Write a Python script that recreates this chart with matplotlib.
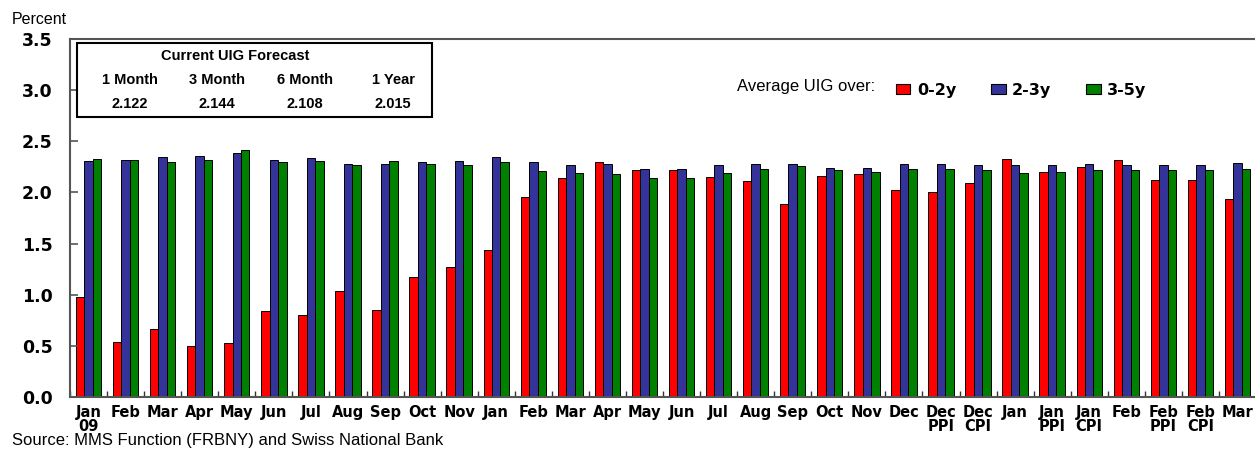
import numpy as np
import matplotlib.pyplot as plt
from matplotlib.patches import Rectangle, Patch

# Categories (survey dates)
labels = ['Jan\n09', 'Feb', 'Mar', 'Apr', 'May', 'Jun', 'Jul', 'Aug', 'Sep', 'Oct',
          'Nov', 'Jan', 'Feb', 'Mar', 'Apr', 'May', 'Jun', 'Jul', 'Aug', 'Sep',
          'Oct', 'Nov', 'Dec', 'Dec\nPPI', 'Dec\nCPI', 'Jan', 'Jan\nPPI', 'Jan\nCPI',
          'Feb', 'Feb\nPPI', 'Feb\nCPI', 'Mar']

# Average UIG over horizons
uig_0_2 = [0.98, 0.54, 0.66, 0.50, 0.53, 0.84, 0.80, 1.04, 0.85, 1.17,
           1.27, 1.44, 1.96, 2.14, 2.30, 2.22, 2.22, 2.15, 2.11, 1.89,
           2.16, 2.18, 2.02, 2.00, 2.09, 2.33, 2.20, 2.25, 2.32, 2.12, 2.12, 1.94]
uig_2_3 = [2.31, 2.32, 2.35, 2.36, 2.39, 2.32, 2.34, 2.28, 2.28, 2.30,
           2.31, 2.35, 2.30, 2.27, 2.28, 2.23, 2.23, 2.27, 2.28, 2.28,
           2.24, 2.24, 2.28, 2.28, 2.27, 2.27, 2.27, 2.28, 2.27, 2.27, 2.27, 2.29]
uig_3_5 = [2.33, 2.32, 2.30, 2.32, 2.41, 2.30, 2.31, 2.27, 2.31, 2.28,
           2.27, 2.30, 2.21, 2.19, 2.18, 2.14, 2.14, 2.19, 2.23, 2.26,
           2.22, 2.20, 2.23, 2.23, 2.22, 2.19, 2.20, 2.22, 2.22, 2.22, 2.22, 2.23]

# Current forecast table
horizons = ['1 Month', '3 Month', '6 Month', '1 Year']
forecast = [2.122, 2.144, 2.108, 2.015]

series_names = ['0-2y', '2-3y', '3-5y']
colors = ['#FF0000', '#333399', '#008000']

fig = plt.figure(figsize=(12.55, 4.49), dpi=100)
ax = fig.add_axes([70 / 1255, 52 / 449, 1186 / 1255, 358 / 449])

x = np.arange(len(labels))
w = 0.228
for k, vals in enumerate([uig_0_2, uig_2_3, uig_3_5]):
    ax.bar(x + (k - 1) * w, vals, w, color=colors[k], edgecolor='black', linewidth=0.7)

ax.set_xlim(-0.5, len(labels) - 0.5)
ax.set_ylim(0, 3.5)
ax.set_yticks(np.arange(0, 3.51, 0.5))
ax.set_yticklabels(['%.1f' % v for v in np.arange(0, 3.51, 0.5)],
                   fontsize=12.5, fontweight='bold', family='DejaVu Sans')
ax.set_xticks(x)
ax.set_xticklabels(labels, fontsize=10.5, fontweight='bold', family='DejaVu Sans',
                   linespacing=0.9, va='top')
ax.set_xticks(np.arange(-0.5, len(labels)), minor=True)
ax.tick_params(axis='x', which='major', length=0, pad=6)
ax.tick_params(axis='x', which='minor', length=4, direction='in', width=1, color='#333333')
ax.tick_params(axis='y', length=6, direction='in', width=1.2, pad=12.5, color='#555555')

for s in ['left', 'bottom', 'top']:
    ax.spines[s].set_color('#555555')
    ax.spines[s].set_linewidth(1.5)
ax.spines['right'].set_visible(False)

fig.text(12 / 1255, 1 - 19 / 449, 'Percent', fontsize=11.5, family='Liberation Sans', va='center')
fig.text(12 / 1255, 1 - 441 / 449, 'Source: MMS Function (FRBNY) and Swiss National Bank',
         fontsize=12, family='Liberation Sans', va='center')

# forecast box
fig.patches.append(Rectangle((77 / 1255, 1 - 117 / 449), 355 / 1255, 74 / 449,
                             transform=fig.transFigure, fill=False, edgecolor='black', linewidth=1.5))
fig.text(235 / 1255, 1 - 56 / 449, 'Current UIG Forecast', fontsize=10.5, fontweight='bold',
         family='Liberation Sans', ha='center', va='center')
col_x = [130, 217, 305, 393]
for cx, h, v in zip(col_x, horizons, forecast):
    fig.text(cx / 1255, 1 - 80 / 449, h, fontsize=10.5, fontweight='bold',
             family='Liberation Sans', ha='center', va='center')
    fig.text(cx / 1255, 1 - 104 / 449, '%.3f' % v, fontsize=10.5, fontweight='bold',
             family='Liberation Sans', ha='center', va='center')

# legend
fig.text(737 / 1255, 1 - 86 / 449, 'Average UIG over:', fontsize=12,
         family='Liberation Sans', va='center')
handles = [Patch(facecolor=c, edgecolor='black', linewidth=0.8) for c in colors]
fig.legend(handles, series_names, loc='center left', bbox_to_anchor=(896 / 1255, 1 - 90 / 449),
           ncol=3, frameon=False, handlelength=0.9, handleheight=0.55, handletextpad=0.4,
           columnspacing=2.2, borderaxespad=0, borderpad=0,
           prop={'family': 'DejaVu Sans', 'weight': 'bold', 'size': 11.5})

fig.savefig('out.png', dpi=100)
